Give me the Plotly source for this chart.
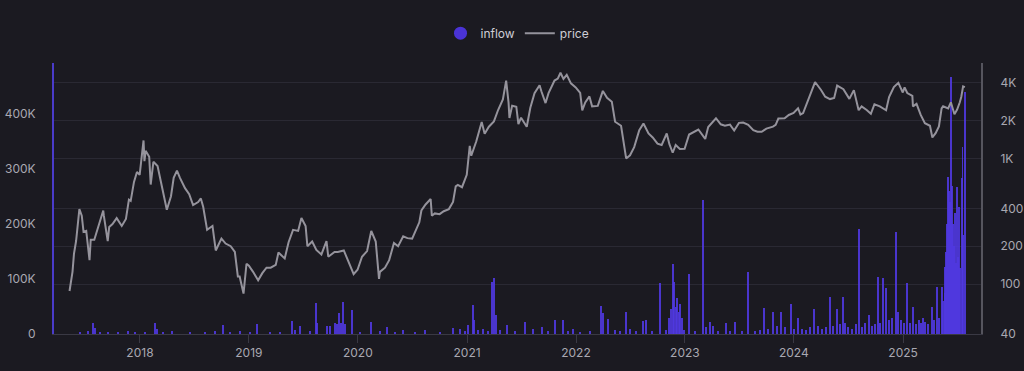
import plotly.graph_objects as go

# ---------------- data ----------------
price_dates = [
    "2017-05-10","2017-05-20","2017-05-25","2017-06-01","2017-06-12","2017-06-20","2017-06-26","2017-07-05","2017-07-16","2017-07-20",
    "2017-08-01","2017-08-15","2017-08-31","2017-09-02","2017-09-15","2017-09-20","2017-10-01","2017-10-15","2017-11-01","2017-11-15",
    "2017-11-25","2017-12-01","2017-12-12","2017-12-22","2017-12-31",
    "2018-01-13","2018-01-16","2018-01-20","2018-02-01","2018-02-06","2018-02-15","2018-03-01","2018-03-15","2018-04-01","2018-04-15",
    "2018-04-24","2018-05-05","2018-05-15","2018-06-01","2018-06-15","2018-06-28","2018-07-15","2018-07-24","2018-08-01","2018-08-14",
    "2018-09-01","2018-09-12","2018-10-01","2018-10-15","2018-11-01","2018-11-15","2018-11-25","2018-12-01","2018-12-14","2018-12-24",
    "2019-01-01","2019-01-15","2019-02-01","2019-02-15","2019-03-01","2019-03-15","2019-04-01","2019-04-10","2019-05-01","2019-05-14",
    "2019-05-29","2019-06-15","2019-06-26","2019-07-10","2019-07-16","2019-08-01","2019-08-15","2019-09-01","2019-09-18","2019-09-24",
    "2019-10-15","2019-10-26","2019-11-15","2019-12-01","2019-12-18","2019-12-31",
    "2020-01-15","2020-02-01","2020-02-15","2020-03-01","2020-03-12","2020-03-15","2020-04-01","2020-04-15","2020-05-01","2020-05-15",
    "2020-06-01","2020-06-15","2020-07-01","2020-07-25","2020-08-01","2020-08-15","2020-09-01","2020-09-05","2020-09-15","2020-10-01",
    "2020-10-15","2020-11-01","2020-11-15","2020-11-24","2020-12-01","2020-12-15","2020-12-31",
    "2021-01-10","2021-01-15","2021-02-01","2021-02-15","2021-02-19","2021-03-01","2021-03-15","2021-04-01","2021-04-15","2021-05-01",
    "2021-05-12","2021-05-20","2021-05-23","2021-06-01","2021-06-15","2021-06-22","2021-07-01","2021-07-20","2021-08-01","2021-08-15",
    "2021-09-01","2021-09-07","2021-09-21","2021-10-01","2021-10-15","2021-10-21","2021-11-01","2021-11-10","2021-11-20","2021-12-01",
    "2021-12-15","2021-12-31",
    "2022-01-15","2022-01-22","2022-02-01","2022-02-15","2022-02-24","2022-03-15","2022-04-01","2022-04-15","2022-05-01","2022-05-12",
    "2022-06-01","2022-06-18","2022-07-01","2022-07-15","2022-08-01","2022-08-15","2022-09-01","2022-09-15","2022-10-01","2022-10-15",
    "2022-11-01","2022-11-10","2022-11-21","2022-12-01","2022-12-15","2022-12-31",
    "2023-01-15","2023-02-01","2023-02-15","2023-03-10","2023-03-20","2023-04-15","2023-05-01","2023-05-15","2023-06-01","2023-06-15",
    "2023-07-01","2023-07-15","2023-08-01","2023-08-18","2023-09-01","2023-09-15","2023-10-01","2023-10-23","2023-11-01","2023-11-10",
    "2023-12-01","2023-12-15","2023-12-31",
    "2024-01-15","2024-01-23","2024-02-01","2024-02-15","2024-03-01","2024-03-12","2024-04-01","2024-04-15","2024-05-01","2024-05-15",
    "2024-05-25","2024-06-15","2024-07-05","2024-07-20","2024-08-05","2024-08-15","2024-09-01","2024-09-15","2024-09-27","2024-10-15",
    "2024-11-05","2024-11-15","2024-12-01","2024-12-16","2024-12-31",
    "2025-01-06","2025-01-15","2025-02-01","2025-02-03","2025-02-15","2025-03-01","2025-03-15","2025-04-01","2025-04-09","2025-04-20",
    "2025-05-01","2025-05-10","2025-05-15","2025-06-01","2025-06-10","2025-06-22","2025-07-01","2025-07-10","2025-07-15","2025-07-21",
    "2025-07-27",
]
price_values = [
    88,125,175,220,395,350,260,265,155,225,
    225,295,385,350,220,285,300,335,290,330,
    470,460,650,780,740,
    1390,950,1150,1030,620,940,870,610,390,500,
    700,800,700,580,520,425,450,480,410,270,
    290,185,230,210,200,180,115,115,84,145,
    140,125,107,122,135,135,142,178,160,215,
    270,265,335,290,200,218,187,172,220,165,
    180,180,185,150,120,130,
    165,183,265,218,110,125,135,155,212,200,
    240,232,230,310,385,430,475,350,365,360,
    380,395,450,600,615,590,740,
    1260,1050,1370,1790,1950,1570,1790,1970,2430,2950,
    4170,2780,2100,2630,2580,1880,2110,1790,2530,3310,
    3830,3430,2760,3310,3870,4170,4320,4810,4300,4630,
    3960,3680,
    3330,2410,2790,3120,2600,2620,3450,3040,2830,1960,
    1820,1000,1060,1230,1680,1900,1580,1470,1310,1280,
    1580,1300,1110,1280,1190,1195,
    1550,1640,1700,1430,1780,2090,1870,1820,1860,1670,
    1920,1930,1850,1680,1630,1630,1730,1790,1850,2080,
    2090,2220,2300,
    2510,2240,2300,2780,3430,4060,3510,3100,2970,3030,
    3800,3560,2980,3500,2420,2600,2430,2270,2700,2600,
    2420,3080,3700,4000,3350,
    3680,3320,3150,2600,2720,2220,1910,1820,1470,1590,
    1800,2500,2600,2500,2800,2250,2450,2800,3100,3750,
    3700,
]

inflow_dates = [
    "2017-06-14","2017-07-11","2017-07-29","2017-08-03","2017-08-20","2017-09-16","2017-10-19","2017-11-22","2017-12-15","2018-01-18",
    "2018-02-20","2018-02-27","2018-03-19","2018-04-18","2018-06-18","2018-08-07","2018-09-09","2018-10-06","2018-10-30","2018-12-02",
    "2019-01-05","2019-01-27","2019-03-13","2019-04-15","2019-05-27","2019-06-04","2019-06-21","2019-07-25","2019-08-14","2019-08-18",
    "2019-09-19","2019-09-30","2019-10-16","2019-10-23","2019-10-31","2019-11-06","2019-11-13","2019-11-19","2019-12-12","2020-01-08",
    "2020-02-14","2020-03-15","2020-04-07","2020-05-04","2020-05-31","2020-07-11","2020-08-13","2020-10-02","2020-11-16","2020-12-08",
    "2020-12-25","2021-01-05","2021-01-20","2021-01-25","2021-02-07","2021-02-24","2021-03-12","2021-03-25","2021-04-01","2021-04-08",
    "2021-04-21","2021-05-14","2021-06-11","2021-07-14","2021-08-11","2021-09-08","2021-09-29","2021-10-23","2021-11-19","2021-12-05",
    "2021-12-23","2022-01-14","2022-02-17","2022-03-25","2022-04-02","2022-04-18","2022-05-12","2022-05-28","2022-06-18","2022-07-01",
    "2022-07-21","2022-08-14","2022-08-24","2022-09-13","2022-10-10","2022-10-30","2022-11-09","2022-11-14","2022-11-21","2022-11-26",
    "2022-12-01","2022-12-06","2022-12-11","2022-12-16","2022-12-21","2022-12-29","2023-01-15","2023-02-04","2023-03-02","2023-03-13",
    "2023-03-26","2023-04-05","2023-04-22","2023-05-18","2023-06-01","2023-06-18","2023-07-11","2023-07-31","2023-08-24","2023-09-10",
    "2023-09-23","2023-10-06","2023-10-23","2023-11-06","2023-11-19","2023-12-02","2023-12-21","2024-01-02","2024-01-14","2024-01-28",
    "2024-02-11","2024-02-24","2024-03-09","2024-03-22","2024-04-04","2024-04-18","2024-05-01","2024-05-11","2024-05-24","2024-06-04",
    "2024-06-13","2024-06-20","2024-07-01","2024-07-14","2024-07-27","2024-08-06","2024-08-16","2024-08-26","2024-09-08","2024-09-19",
    "2024-09-29","2024-10-08","2024-10-16","2024-10-26","2024-11-05","2024-11-15","2024-11-25","2024-12-08","2024-12-15","2024-12-25",
    "2025-01-04","2025-01-13","2025-01-24","2025-02-03","2025-02-13","2025-02-23","2025-03-02","2025-03-09","2025-03-16","2025-03-26",
    "2025-04-07","2025-04-15","2025-04-24","2025-05-01","2025-05-10","2025-05-15","2025-05-20","2025-05-22","2025-05-25","2025-05-28",
    "2025-06-02","2025-06-05","2025-06-08","2025-06-11","2025-06-14","2025-06-17","2025-06-21","2025-06-24","2025-06-27","2025-07-01",
    "2025-07-05","2025-07-08","2025-07-11","2025-07-16","2025-07-19","2025-07-22","2025-07-27",
]
inflow_values = [
    3000,5000,20000,11000,4000,4000,3000,5000,4000,3000,
    20000,10000,4000,5000,3000,4000,5000,16000,4000,5000,
    4000,19000,3000,4000,24000,8000,14000,5000,57000,20000,
    15000,15000,20000,18000,39000,20000,59000,18000,44000,4000,
    22000,5000,12000,4000,8000,3000,8000,4000,11000,10000,
    6000,16000,53000,25000,8000,10000,5000,95000,101000,35000,
    8000,16000,6000,22000,10000,12000,5000,25000,25000,6000,
    10000,4000,5000,51000,38000,27000,8000,6000,40000,10000,
    6000,24000,26000,5000,93000,8000,30000,45000,127000,95000,
    50000,65000,40000,55000,30000,8000,109000,6000,244000,12000,
    22000,14000,6000,20000,6000,22000,5000,113000,6000,8000,
    47000,10000,40000,15000,40000,12000,54000,10000,29000,10000,
    8000,12000,45000,14000,10000,12000,67000,14000,45000,18000,
    67000,20000,12000,10000,18000,191000,12000,20000,35000,15000,
    18000,104000,20000,102000,84000,25000,30000,186000,40000,25000,
    20000,92000,20000,49000,18000,25000,20000,30000,22000,18000,
    49000,25000,85000,30000,85000,60000,75000,122000,150000,200000,
    285000,260000,240000,467000,270000,200000,160000,220000,130000,267000,
    140000,231000,120000,284000,340000,180000,440000,
]

left_tickvals = [0, 100000, 200000, 300000, 400000]
left_ticktext = ["0", "100K", "200K", "300K", "400K"]
right_tickvals = [40, 100, 200, 400, 1000, 2000, 4000]
right_ticktext = ["40", "100", "200", "400", "1K", "2K", "4K"]

# ---------------- figure ----------------
BG = "#1b1a21"
BAR = "#5038e0"
LINE = "#95939c"
TXT = "#a9a8b1"
DAY_MS = 86400000

fig = go.Figure()
fig.add_trace(go.Bar(
    x=inflow_dates, y=inflow_values, name="inflow", yaxis="y",
    marker=dict(color=BAR, line=dict(width=0), opacity=0.9),
    width=[3.3 * DAY_MS] * len(inflow_values),
    showlegend=False,
))
fig.add_trace(go.Scatter(
    x=[None], y=[None], mode="markers", name="inflow",
    marker=dict(color="#4a33d6", size=13, symbol="circle"),
))
fig.add_trace(go.Scatter(
    x=price_dates, y=price_values, name="price", yaxis="y2", mode="lines",
    line=dict(color=LINE, width=2),
))

fig.update_layout(
    width=1024, height=371,
    autosize=False,
    margin=dict(l=54, r=43, t=63, b=37, autoexpand=False),
    paper_bgcolor=BG, plot_bgcolor=BG,
    font=dict(family="Inter, Roboto, sans-serif", size=12, color=TXT),
    bargap=0,
    showlegend=True,
    legend=dict(orientation="h", x=0.5, xanchor="center", y=1.11, yanchor="middle",
                font=dict(size=12, color="#cfced6"), bgcolor="rgba(0,0,0,0)",
                itemwidth=30),
    xaxis=dict(
        type="date", range=["2017-03-19", "2025-09-19"], automargin=False,
        showgrid=False, zeroline=False,
        showline=True, linecolor="#3a3944", linewidth=1,
        ticks="outside", ticklen=8, tickcolor="#3a3944", tickwidth=1,
        dtick="M12", tick0="2018-01-01", tickformat="%Y",
        tickfont=dict(size=12, color=TXT),
    ),
    yaxis=dict(
        range=[0, 493000], showgrid=False, zeroline=False, automargin=False,
        showline=True, linecolor="#4a3bc9", linewidth=2,
        tickvals=left_tickvals, ticktext=left_ticktext,
        ticks="", ticklabelstandoff=14,
        tickfont=dict(size=12, color=TXT),
    ),
    yaxis2=dict(
        type="log", range=[1.6021, 3.76], overlaying="y", side="right", automargin=False,
        showgrid=True, gridcolor="#2a2933", gridwidth=1, zeroline=False,
        showline=True, linecolor="#56555e", linewidth=2,
        tickvals=right_tickvals, ticktext=right_ticktext,
        ticks="", ticklabelstandoff=15,
        tickfont=dict(size=12, color=TXT),
    ),
)

fig.write_html(
    "out.html",
    config={"displayModeBar": False},
    post_script="document.body.style.margin='0';document.body.style.overflow='hidden';document.body.style.background='#1b1a21';",
)
